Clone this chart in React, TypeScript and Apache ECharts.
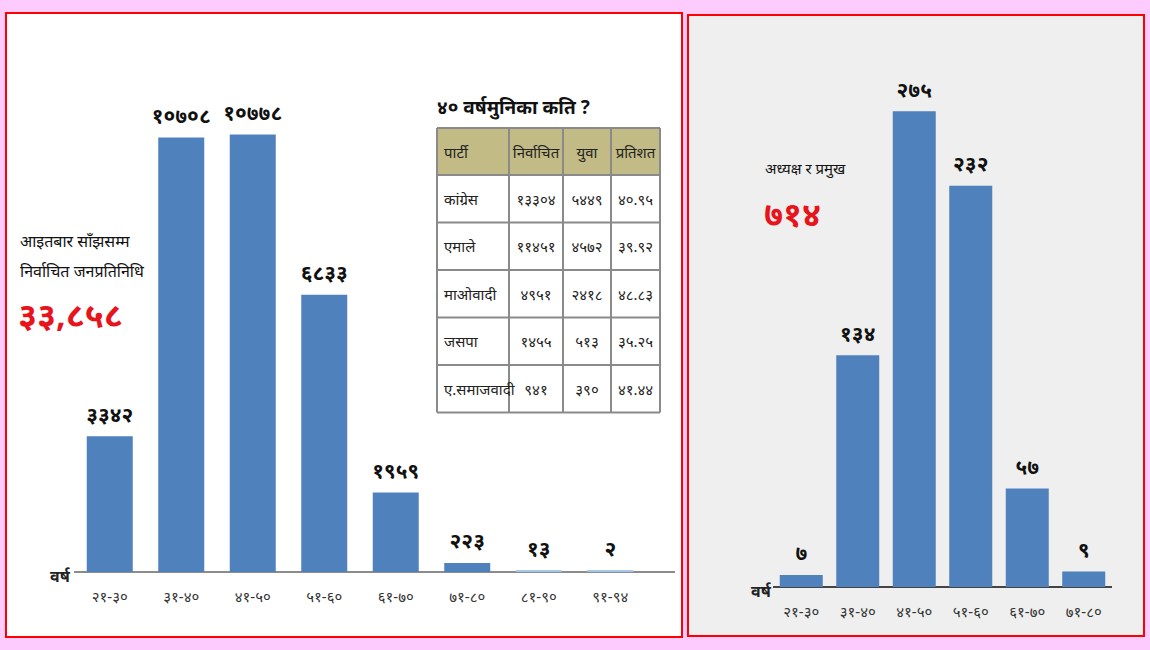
import React, { useEffect, useRef } from "react";
import * as echarts from "echarts";

const leftCategories = ["21-30", "31-40", "41-50", "51-60", "61-70", "71-80", "81-90", "91-94"];
const leftValues = [3342, 10708, 10778, 6833, 1959, 223, 13, 2];
const rightCategories = ["21-30", "31-40", "41-50", "51-60", "61-70", "71-80"];
const rightValues = [7, 134, 275, 232, 57, 9];

const leftTitleLines = ["आइतबार साँझसम्म", "निर्वाचित जनप्रतिनिधि"];
const leftTotal = "33,858";
const rightTitle = "अध्यक्ष र प्रमुख";
const rightTotal = "714";
const axisName = "वर्ष";

const tableTitle = "40 वर्षमुनिका कति ?";
const tableHeader = ["पार्टी", "निर्वाचित", "युवा", "प्रतिशत"];
const tableParties = ["कांग्रेस", "एमाले", "माओवादी", "जसपा", "ए.समाजवादी"];
const tableElected = ["13304", "11451", "4951", "1455", "941"];
const tableYouth = ["5449", "4572", "2418", "513", "390"];
const tablePercent = ["40.95", "39.92", "48.83", "35.25", "41.44"];

const DEV = "०१२३४५६७८९";
const dev = (s: string | number) => String(s).replace(/[0-9]/g, (d) => DEV[Number(d)]);

const FONT = "'Noto Sans', 'DejaVu Sans', sans-serif";

export default function App() {
  const ref = useRef<HTMLDivElement>(null);
  useEffect(() => {
    if (!ref.current) return;
    const chart = echarts.init(ref.current, undefined, { renderer: "svg" });

    const tx = 437;
    const ty = 128;
    const colX = [437, 509, 563, 611, 660];
    const headH = 47;
    const rowH = 47.5;
    const tableEls: any[] = [];
    const nRows = tableParties.length;
    const tableBottom = ty + headH + nRows * rowH;
    tableEls.push({
      type: "rect",
      shape: { x: tx, y: ty, width: colX[4] - tx, height: headH },
      style: { fill: "#c3bb86" },
    });
    const hy = [ty, ty + headH];
    for (let i = 1; i <= nRows; i++) hy.push(ty + headH + i * rowH);
    hy.forEach((y) =>
      tableEls.push({
        type: "line",
        shape: { x1: tx, y1: y, x2: colX[4], y2: y },
        style: { stroke: "#8a8a8a", lineWidth: 2 },
      })
    );
    colX.forEach((x) =>
      tableEls.push({
        type: "line",
        shape: { x1: x, y1: ty, x2: x, y2: tableBottom },
        style: { stroke: "#8a8a8a", lineWidth: 2 },
      })
    );
    tableHeader.forEach((h, c) => {
      tableEls.push({
        type: "text",
        x: c === 0 ? colX[0] + 7 : (colX[c] + colX[c + 1]) / 2,
        y: ty + headH / 2,
        style: {
          text: h,
          font: `15px ${FONT}`,
          fill: "#222",
          align: c === 0 ? "left" : "center",
          verticalAlign: "middle",
        },
      });
    });
    const cols = [tableParties, tableElected, tableYouth, tablePercent];
    for (let r = 0; r < nRows; r++) {
      const cy = ty + headH + r * rowH + rowH / 2;
      cols.forEach((col, c) => {
        tableEls.push({
          type: "text",
          x: c === 0 ? colX[0] + 7 : (colX[c] + colX[c + 1]) / 2,
          y: cy,
          style: {
            text: c === 0 ? col[r] : dev(col[r]),
            font: `15px ${FONT}`,
            fill: "#222",
            align: c === 0 ? "left" : "center",
            verticalAlign: "middle",
          },
        });
      });
    }

    const labelStyle = {
      show: true,
      position: "top" as const,
      distance: 12,
      fontSize: 21,
      fontWeight: "bold" as const,
      color: "#111",
      fontFamily: FONT,
      formatter: (p: any) => dev(p.value),
    };

    chart.setOption({
      animation: false,
      backgroundColor: "#fdcbfd",
      graphic: [
        {
          type: "rect",
          z: -10,
          shape: { x: 6, y: 13, width: 676, height: 624 },
          style: { fill: "#ffffff", stroke: "#ff0000", lineWidth: 2 },
        },
        {
          type: "rect",
          z: -10,
          shape: { x: 688, y: 15, width: 456, height: 621 },
          style: { fill: "#eeefee", stroke: "#ff0000", lineWidth: 2 },
        },
        {
          type: "line",
          shape: { x1: 74, y1: 572, x2: 675, y2: 572 },
          style: { stroke: "#8c8c8c", lineWidth: 2 },
        },
        {
          type: "line",
          shape: { x1: 773, y1: 587, x2: 1112, y2: 587 },
          style: { stroke: "#444", lineWidth: 2 },
        },
        {
          type: "text",
          x: 50,
          y: 576,
          style: { text: axisName, font: `bold 16px ${FONT}`, fill: "#222", verticalAlign: "middle" },
        },
        {
          type: "text",
          x: 751,
          y: 591,
          style: { text: axisName, font: `bold 16px ${FONT}`, fill: "#222", verticalAlign: "middle" },
        },
        {
          type: "text",
          x: 20,
          y: 241,
          style: { text: leftTitleLines[0], font: `16px ${FONT}`, fill: "#111", verticalAlign: "middle" },
        },
        {
          type: "text",
          x: 20,
          y: 271,
          style: { text: leftTitleLines[1], font: `16px ${FONT}`, fill: "#111", verticalAlign: "middle" },
        },
        {
          type: "text",
          x: 18,
          y: 314,
          style: { text: dev(leftTotal), font: `bold 34px ${FONT}`, fill: "#e8141c", verticalAlign: "middle" },
        },
        {
          type: "text",
          x: 765,
          y: 168,
          style: { text: rightTitle, font: `15px ${FONT}`, fill: "#111", verticalAlign: "middle" },
        },
        {
          type: "text",
          x: 764,
          y: 213,
          style: { text: dev(rightTotal), font: `bold 34px ${FONT}`, fill: "#e8141c", verticalAlign: "middle" },
        },
        {
          type: "text",
          x: tx,
          y: 107,
          style: { text: dev(tableTitle), font: `bold 19px ${FONT}`, fill: "#111", verticalAlign: "middle" },
        },
        ...tableEls,
      ],
      grid: [
        { left: 74, width: 572, top: 85, height: 487 },
        { left: 773, width: 339, top: 68, height: 519 },
      ],
      xAxis: [
        {
          type: "category",
          gridIndex: 0,
          data: leftCategories.map(dev),
          axisLine: { show: false },
          axisTick: { show: false },
          axisLabel: { fontSize: 15, color: "#333", margin: 16, fontFamily: FONT },
        },
        {
          type: "category",
          gridIndex: 1,
          data: rightCategories.map(dev),
          axisLine: { show: false },
          axisTick: { show: false },
          axisLabel: { fontSize: 15, color: "#333", margin: 16, fontFamily: FONT },
        },
      ],
      yAxis: [
        { type: "value", gridIndex: 0, min: 0, max: 12000, show: false, splitLine: { show: false } },
        { type: "value", gridIndex: 1, min: 0, max: 300, show: false, splitLine: { show: false } },
      ],
      series: [
        {
          type: "bar",
          xAxisIndex: 0,
          yAxisIndex: 0,
          barWidth: 46,
          barMinHeight: 2,
          data: leftValues.map((v) => ({
            value: v,
            itemStyle: { color: v < 100 ? "#a8c6ea" : "#4f81bd" },
          })),
          label: labelStyle,
        },
        {
          type: "bar",
          xAxisIndex: 1,
          yAxisIndex: 1,
          barWidth: 43,
          data: rightValues,
          itemStyle: { color: "#4f81bd" },
          label: labelStyle,
        },
      ],
    });
    return () => chart.dispose();
  }, []);
  return <div ref={ref} style={{ position: "fixed", left: 0, top: 0, width: 1150, height: 650 }} />;
}
